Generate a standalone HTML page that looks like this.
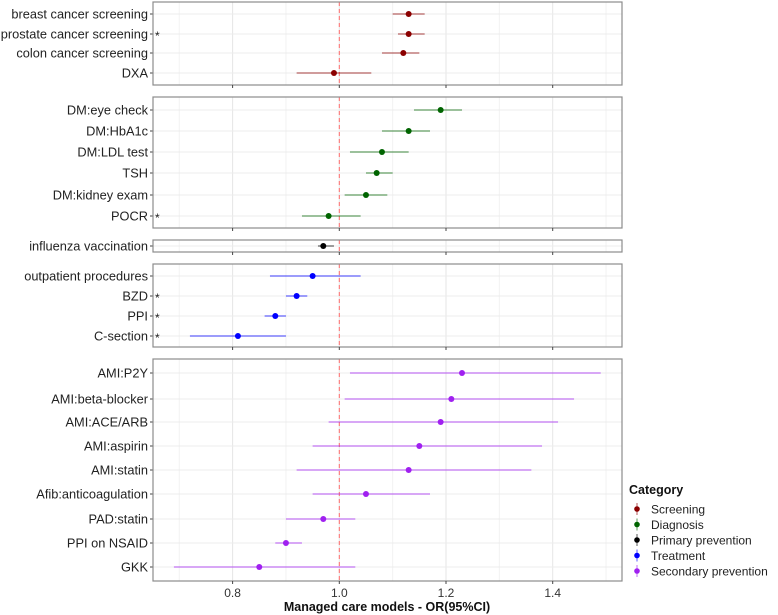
<!DOCTYPE html>
<html><head><meta charset="utf-8"><style>
body{margin:0;background:#fff;}
svg{display:block;font-family:"Liberation Sans",Arial,sans-serif;}
</style></head><body>
<svg id="chart" width="778" height="615"></svg>
<script>
const labels=[["breast cancer screening","prostate cancer screening","colon cancer screening","DXA"],
["DM:eye check","DM:HbA1c","DM:LDL test","TSH","DM:kidney exam","POCR"],
["influenza vaccination"],
["outpatient procedures","BZD","PPI","C-section"],
["AMI:P2Y","AMI:beta-blocker","AMI:ACE/ARB","AMI:aspirin","AMI:statin","Afib:anticoagulation","PAD:statin","PPI on NSAID","GKK"]];
const orValues=[[1.13,1.13,1.12,0.99],[1.19,1.13,1.08,1.07,1.05,0.98],[0.97],[0.95,0.92,0.88,0.81],[1.23,1.21,1.19,1.15,1.13,1.05,0.97,0.90,0.85]];
const ciLow=[[1.10,1.11,1.08,0.92],[1.14,1.08,1.02,1.05,1.01,0.93],[0.96],[0.87,0.90,0.86,0.72],[1.02,1.01,0.98,0.95,0.92,0.95,0.90,0.88,0.69]];
const ciHigh=[[1.16,1.16,1.15,1.06],[1.23,1.17,1.13,1.10,1.09,1.04],[0.99],[1.04,0.94,0.90,0.90],[1.49,1.44,1.41,1.38,1.36,1.17,1.03,0.93,1.03]];
const starred=[[false,true,false,false],[false,false,false,false,false,true],[false],[false,true,true,true],[false,false,false,false,false,false,false,false,false]];
const categories=["Screening","Diagnosis","Primary prevention","Treatment","Secondary prevention"];
const colors=["#8B0000","#006400","#000000","#0000FF","#A020F0"];
const xTicks=[0.8,1.0,1.2,1.4];
const xMinor=[0.7,0.9,1.1,1.3,1.5];

const NS="http://www.w3.org/2000/svg";
const svg=document.getElementById("chart");
function mk(tag,attrs,parent){const e=document.createElementNS(NS,tag);for(const k in attrs)e.setAttribute(k,attrs[k]);(parent||svg).appendChild(e);return e;}
const X0=153,X1=622;
function xs(v){return 339.3+(v-1.0)*533.5;}
const panels=[{top:2,bot:85,rows:[14,34,53,73]},{top:97,bot:228,rows:[110,131,152,173,195,216]},{top:240,bot:252,rows:[246]},{top:264,bot:347,rows:[276,296,316,336]},{top:359,bot:581,rows:[373,399,422,446,470,494,519,543,567]}];
panels.forEach((p,pi)=>{
  const g=mk("g",{});
  
  
  xMinor.forEach(v=>mk("line",{x1:xs(v),x2:xs(v),y1:p.top,y2:p.bot,stroke:"#f2f2f2","stroke-width":1},g));
  xTicks.forEach(v=>mk("line",{x1:xs(v),x2:xs(v),y1:p.top,y2:p.bot,stroke:"#e6e6e6","stroke-width":1},g));
  p.rows.forEach(y=>mk("line",{x1:X0,x2:X1,y1:y,y2:y,stroke:"#ececec","stroke-width":1},g));
  mk("line",{x1:xs(1),x2:xs(1),y1:p.top,y2:p.bot,stroke:"#ff6b6b","stroke-width":1,"stroke-dasharray":"4,3"},g);
  labels[pi].forEach((lab,i)=>{
    const y=p.rows[i];
    const t=mk("text",{x:148,y:y+4.5,"text-anchor":"end","font-size":"12.8",fill:"#222"},g);t.textContent=lab;
    
    
    mk("line",{x1:150,x2:153,y1:y,y2:y,stroke:"#444"},g);
    if(starred[pi][i]){const s=mk("text",{x:155,y:y+6,"font-size":"12",fill:"#222"},g);s.textContent="*";}
    const l=mk("line",{x1:xs(ciLow[pi][i]),x2:xs(ciHigh[pi][i]),y1:y,y2:y,stroke:colors[pi],"stroke-opacity":0.6,"stroke-width":1.3},g);
    
    
    const c=mk("circle",{cx:xs(orValues[pi][i]),cy:y,r:3,fill:colors[pi]},g);
    
    
  });
  mk("rect",{x:X0,y:p.top,width:X1-X0,height:p.bot-p.top,fill:"none",stroke:"#8c8c8c","stroke-width":1.2},g);
  xTicks.forEach(v=>mk("line",{x1:xs(v),x2:xs(v),y1:p.bot,y2:p.bot+3,stroke:"#444"},g));
});
xTicks.forEach(v=>{const t=mk("text",{x:xs(v),y:597,"text-anchor":"middle","font-size":"12",fill:"#333"});t.textContent=v.toFixed(1);

});
const at=mk("text",{x:387,y:611,"text-anchor":"middle","font-size":"12.5","font-weight":"bold",fill:"#111"});at.textContent="Managed care models - OR(95%CI)";


const lg=mk("g",{});


const lt=mk("text",{x:629,y:494,"font-size":"12.5","font-weight":"bold",fill:"#111"},lg);lt.textContent="Category";
categories.forEach((c,i)=>{const y=509+i*15.5;
  const e=mk("g",{},lg);
  
  
  mk("line",{x1:637,x2:637,y1:y-6,y2:y+6,stroke:colors[i],"stroke-opacity":0.5,"stroke-width":1.3},e);
  mk("circle",{cx:637,cy:y,r:2.8,fill:colors[i]},e);
  const t=mk("text",{x:651,y:y+4.5,"font-size":"12",fill:"#222"},e);t.textContent=c;});
</script>
</body></html>
